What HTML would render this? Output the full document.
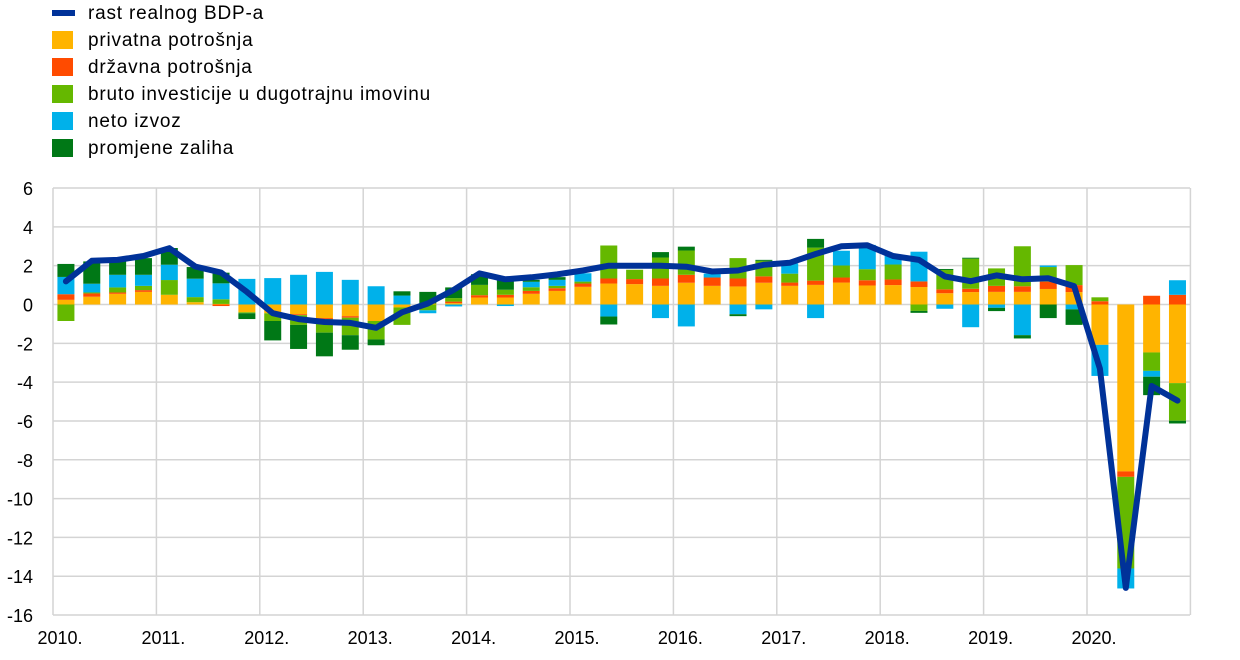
<!DOCTYPE html>
<html><head><meta charset="utf-8"><style>
body{margin:0;background:#fff;}
svg{display:block;font-family:"Liberation Sans",sans-serif;}
</style></head><body>
<svg id="c" width="1240" height="660" xmlns="http://www.w3.org/2000/svg"></svg>
<script>
const S=document.getElementById('c');const NS='http://www.w3.org/2000/svg';
function el(t,a,txt){const e=document.createElementNS(NS,t);for(const k in a)e.setAttribute(k,a[k]);if(txt!==undefined)e.textContent=txt;S.appendChild(e);return e;}
const C=['#ffb400','#ff4b00','#65b800','#00b1ea','#007816'];
const x0=53,qw=25.85,z=304.5,u=19.41;
const Y=v=>z-v*u;
for(let v=6;v>=-16;v-=2){el('line',{x1:x0,x2:1190,y1:Y(v),y2:Y(v),stroke:'#d4d4d4','stroke-width':1.5});
el('text',{x:33,y:Y(v)+7,'text-anchor':'end','font-size':18,fill:'#000'},v);}
for(let i=0;i<=11;i++){const x=x0+i*qw*4;el('line',{x1:x,x2:x,y1:Y(6),y2:Y(-16),stroke:'#d4d4d4','stroke-width':1.5});
if(i<=10)el('text',{x:x+7,y:644,'text-anchor':'middle','font-size':18,fill:'#000'},(2010+i)+'.');}
const D=[
[0.24,0.29,-0.85,0.89,0.67],[0.4,0.17,0.05,0.45,1.15],[0.55,0.07,0.26,0.65,0.69],[0.65,0.09,0.22,0.57,0.86],
[0.5,0,0.76,0.79,0.86],[0.12,0,0.26,0.95,0.6],[0.03,-0.08,0.24,0.82,0.55],[-0.4,0,-0.05,1.32,-0.3],
[-0.45,0,-0.4,1.36,-1.0],[-0.5,-0.05,-0.5,1.53,-1.24],[-0.7,-0.05,-0.7,1.68,-1.22],[-0.6,-0.08,-0.9,1.27,-0.75],
[-0.85,0,-0.95,0.94,-0.3],[-0.15,0,-0.9,0.46,0.22],[0.05,0,-0.3,-0.15,0.6],[0.07,0.08,0.18,-0.1,0.55],
[0.36,0.12,0.53,0,0.55],[0.36,0.14,0.26,-0.08,0.52],[0.55,0.15,0.19,0.28,0.1],[0.7,0.14,0.12,0.31,0.14],
[0.91,0.17,0.1,0.43,0],[1.08,0.26,1.7,-0.62,-0.41],[1.05,0.26,0.48,0,0],[0.96,0.38,1.08,-0.7,0.28],
[1.12,0.41,1.25,-1.13,0.2],[0.96,0.43,0,0.2,0],[0.93,0.41,1.05,-0.5,-0.1],[1.12,0.33,0.8,-0.25,0.05],
[0.96,0.17,0.46,0.53,0],[1.01,0.22,1.7,-0.7,0.45],[1.13,0.26,0.62,0.76,0],[0.98,0.27,0.57,1.25,0],
[1.0,0.29,0.77,0.48,0],[0.9,0.29,-0.33,1.53,-0.1],[0.58,0.2,1.0,-0.22,0.05],[0.64,0.17,1.55,-1.17,0.05],
[0.65,0.31,0.9,-0.17,-0.17],[0.65,0.29,2.06,-1.58,-0.17],[0.8,0.38,0.75,0.08,-0.7],[0.64,0.36,1.03,-0.25,-0.8],
[-2.08,0.17,0.2,-1.6,0],[-8.6,-0.28,-4.72,-1.03,0],[-2.47,0.45,-0.95,-0.3,-0.95],[-4.05,0.5,-1.94,0.75,-0.14]];
const G=[1.19,2.25,2.3,2.5,2.9,1.96,1.65,0.65,-0.45,-0.75,-0.9,-0.95,-1.2,-0.4,0.05,0.75,1.6,1.3,1.4,1.55,1.75,2.0,2.0,2.0,1.95,1.7,1.75,2.05,2.15,2.6,3.0,3.05,2.5,2.3,1.45,1.2,1.5,1.3,1.35,0.95,-3.3,-14.6,-4.2,-4.95];
D.forEach((r,i)=>{const cx=x0+qw*(i+0.5);let p=0,n=0;
r.forEach((v,k)=>{if(!v)return;let y1,y2;if(v>0){y1=Y(p+v);y2=Y(p);p+=v;}else{y1=Y(n);y2=Y(n+v);n+=v;}
el('rect',{x:cx-8.5,y:y1,width:17,height:y2-y1,fill:C[k]});});});
el('polyline',{points:G.map((v,i)=>(x0+qw*(i+0.5)).toFixed(1)+','+Y(v).toFixed(1)).join(' '),fill:'none',stroke:'#003299','stroke-width':6,'stroke-linejoin':'round','stroke-linecap':'round'});
const L=['rast realnog BDP-a','privatna potrošnja','državna potrošnja','bruto investicije u dugotrajnu imovinu','neto izvoz','promjene zaliha'];
L.forEach((t,i)=>{const y=13+i*27;
if(i==0)el('rect',{x:52,y:y-3,width:23,height:6,fill:'#003299'});
else el('rect',{x:52,y:y-9,width:21,height:18,fill:C[i-1]});
el('text',{x:88,y:y+6,'font-size':19,'letter-spacing':0.8,fill:'#000'},t);});
</script>
</body></html>
